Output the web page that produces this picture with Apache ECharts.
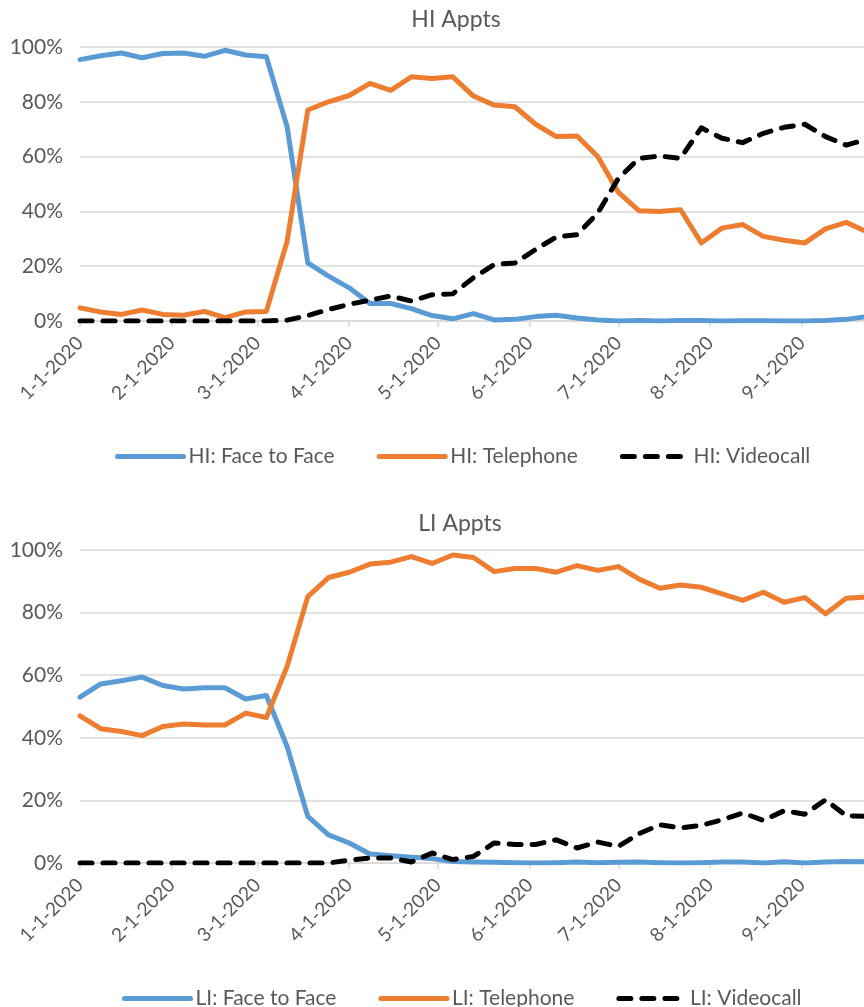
<!DOCTYPE html>
<html>
<head>
<meta charset="utf-8">
<script src="https://cdn.jsdelivr.net/npm/echarts@6/dist/echarts.min.js"></script>
<style>
  html, body { margin: 0; padding: 0; background: #fff; }
  #chart { width: 864px; height: 1007px; }
</style>
</head>
<body>
<div id="chart"></div>
<script>
// weekly points starting 1-1-2020 (x = days since 1 Jan)
const weekCount = 39;
const weekDays = Array.from({ length: weekCount }, (_, i) => i * 7);

// month tick positions (days since 1 Jan 2020) and labels
const monthDays = [0, 31, 60, 91, 121, 152, 182, 213, 244];
const monthLabels = ['1-1-2020', '2-1-2020', '3-1-2020', '4-1-2020', '5-1-2020',
  '6-1-2020', '7-1-2020', '8-1-2020', '9-1-2020'];

// HI Appts (%)
const hiFace = [95.4, 96.8, 97.8, 96.1, 97.6, 97.8, 96.6, 98.8, 97.1, 96.4,
  70.9, 21.2, 16.4, 12.1, 6.4, 6.4, 4.5, 2.0, 0.8, 2.7,
  0.4, 0.6, 1.6, 2.1, 1.1, 0.4, 0.0, 0.2, 0.0, 0.2,
  0.2, 0.0, 0.1, 0.1, 0.0, 0.0, 0.2, 0.6, 1.6];
const hiPhone = [4.8, 3.3, 2.4, 4.0, 2.4, 2.1, 3.5, 1.2, 3.3, 3.5,
  29.1, 77.0, 80.0, 82.3, 86.7, 84.2, 89.1, 88.5, 89.1, 82.1,
  78.8, 78.2, 71.8, 67.3, 67.5, 60.0, 46.9, 40.2, 40.0, 40.6,
  28.5, 33.9, 35.2, 30.9, 29.5, 28.5, 33.6, 36.0, 32.5];
const hiVideo = [0, 0, 0, 0, 0, 0, 0, 0, 0, 0,
  0.3, 2.0, 4.2, 6.1, 7.6, 9.1, 7.3, 9.6, 9.9, 15.8,
  20.6, 21.2, 26.1, 30.7, 31.5, 39.4, 52.1, 59.4, 60.2, 59.4,
  70.5, 66.7, 65.1, 68.5, 70.7, 71.8, 67.3, 64.2, 66.3];

// LI Appts (%)
const liFace = [53.0, 57.2, 58.2, 59.4, 56.7, 55.6, 56.0, 56.0, 52.4, 53.5,
  37.2, 14.9, 9.0, 6.4, 2.9, 2.3, 1.8, 1.4, 0.5, 0.3,
  0.2, 0.1, 0.0, 0.1, 0.3, 0.1, 0.2, 0.3, 0.1, 0.0,
  0.1, 0.3, 0.3, 0.0, 0.4, 0.0, 0.3, 0.5, 0.4];
const liPhone = [47.0, 42.9, 42.0, 40.7, 43.6, 44.4, 44.1, 44.1, 47.9, 46.5,
  62.8, 85.1, 91.2, 92.9, 95.5, 96.1, 97.9, 95.7, 98.4, 97.6,
  93.1, 94.1, 94.1, 92.9, 95.0, 93.5, 94.7, 90.7, 87.8, 88.8,
  88.1, 86.0, 83.9, 86.5, 83.3, 84.8, 79.6, 84.6, 85.0];
const liVideo = [0, 0, 0, 0, 0, 0, 0, 0, 0, 0,
  0, 0, 0, 0.9, 1.6, 1.6, 0.3, 3.2, 1.1, 2.1,
  6.4, 5.9, 5.9, 7.4, 4.8, 6.7, 5.3, 9.4, 12.2, 11.2,
  12.0, 13.8, 16.0, 13.6, 16.7, 15.6, 20.2, 15.1, 14.9];

const pts = arr => arr.map((v, i) => [weekDays[i], v]);

const textColor = '#595959';
const gridColor = '#d9d9d9';
const fontFamily = 'Lato, "Liberation Sans", sans-serif';
const blue = '#5b9bd5', orange = '#ed7d31', black = '#000000';
const dash = [12, 11];

function xAxisFor(gridIndex) {
  return {
    type: 'value', gridIndex, min: 0, max: 265,
    axisLine: { show: true, lineStyle: { color: gridColor, width: 1.5 } },
    axisTick: { show: true, customValues: monthDays, length: 6, lineStyle: { color: gridColor, width: 1.5 } },
    splitLine: { show: false },
    axisLabel: {
      customValues: monthDays, rotate: 45, margin: 19,
      color: textColor, fontSize: 19, fontFamily,
      formatter: v => monthLabels[monthDays.indexOf(v)] || ''
    }
  };
}
function yAxisFor(gridIndex) {
  return {
    type: 'value', gridIndex, min: 0, max: 100, interval: 20,
    axisLine: { show: false }, axisTick: { show: false },
    splitLine: { lineStyle: { color: gridColor, width: 1.5 } },
    axisLabel: { color: textColor, fontSize: 21, fontFamily, margin: 17, formatter: '{value}%' }
  };
}
function lineSeries(name, data, color, idx, dashed) {
  return {
    name, type: 'line', xAxisIndex: idx, yAxisIndex: idx,
    data: pts(data), symbol: 'none', clip: true,
    lineStyle: { color, width: 5, type: dashed ? dash : 'solid', cap: 'round', join: 'round' },
    itemStyle: { color }
  };
}
function legendFor(names, left, top) {
  return {
    data: names, left, top,
    itemWidth: 66, itemHeight: 10, itemGap: 42,
    itemStyle: { opacity: 0 },
    lineStyle: { width: 5, cap: 'round' },
    textStyle: { color: textColor, fontSize: 21, fontFamily }
  };
}

const chart = echarts.init(document.getElementById('chart'), null, { renderer: 'canvas' });
chart.setOption({
  animation: false,
  backgroundColor: '#ffffff',
  title: [
    { text: 'HI Appts', left: 451, top: 3, textAlign: 'center',
      textStyle: { color: textColor, fontSize: 23, fontWeight: 'normal', fontFamily } },
    { text: 'LI Appts', left: 455, top: 507, textAlign: 'center',
      textStyle: { color: textColor, fontSize: 23, fontWeight: 'normal', fontFamily } }
  ],
  legend: [
    legendFor(['HI: Face to Face', 'HI: Telephone', 'HI: Videocall'], 110, 441),
    legendFor(['LI: Face to Face', 'LI: Telephone', 'LI: Videocall'], 117, 983)
  ],
  grid: [
    { left: 80, right: 0, top: 47, height: 274 },
    { left: 80, right: 0, top: 550, height: 313 }
  ],
  xAxis: [xAxisFor(0), xAxisFor(1)],
  yAxis: [yAxisFor(0), yAxisFor(1)],
  series: [
    lineSeries('HI: Face to Face', hiFace, blue, 0, false),
    lineSeries('HI: Telephone', hiPhone, orange, 0, false),
    lineSeries('HI: Videocall', hiVideo, black, 0, true),
    lineSeries('LI: Face to Face', liFace, blue, 1, false),
    lineSeries('LI: Telephone', liPhone, orange, 1, false),
    lineSeries('LI: Videocall', liVideo, black, 1, true)
  ]
});
</script>
</body>
</html>
